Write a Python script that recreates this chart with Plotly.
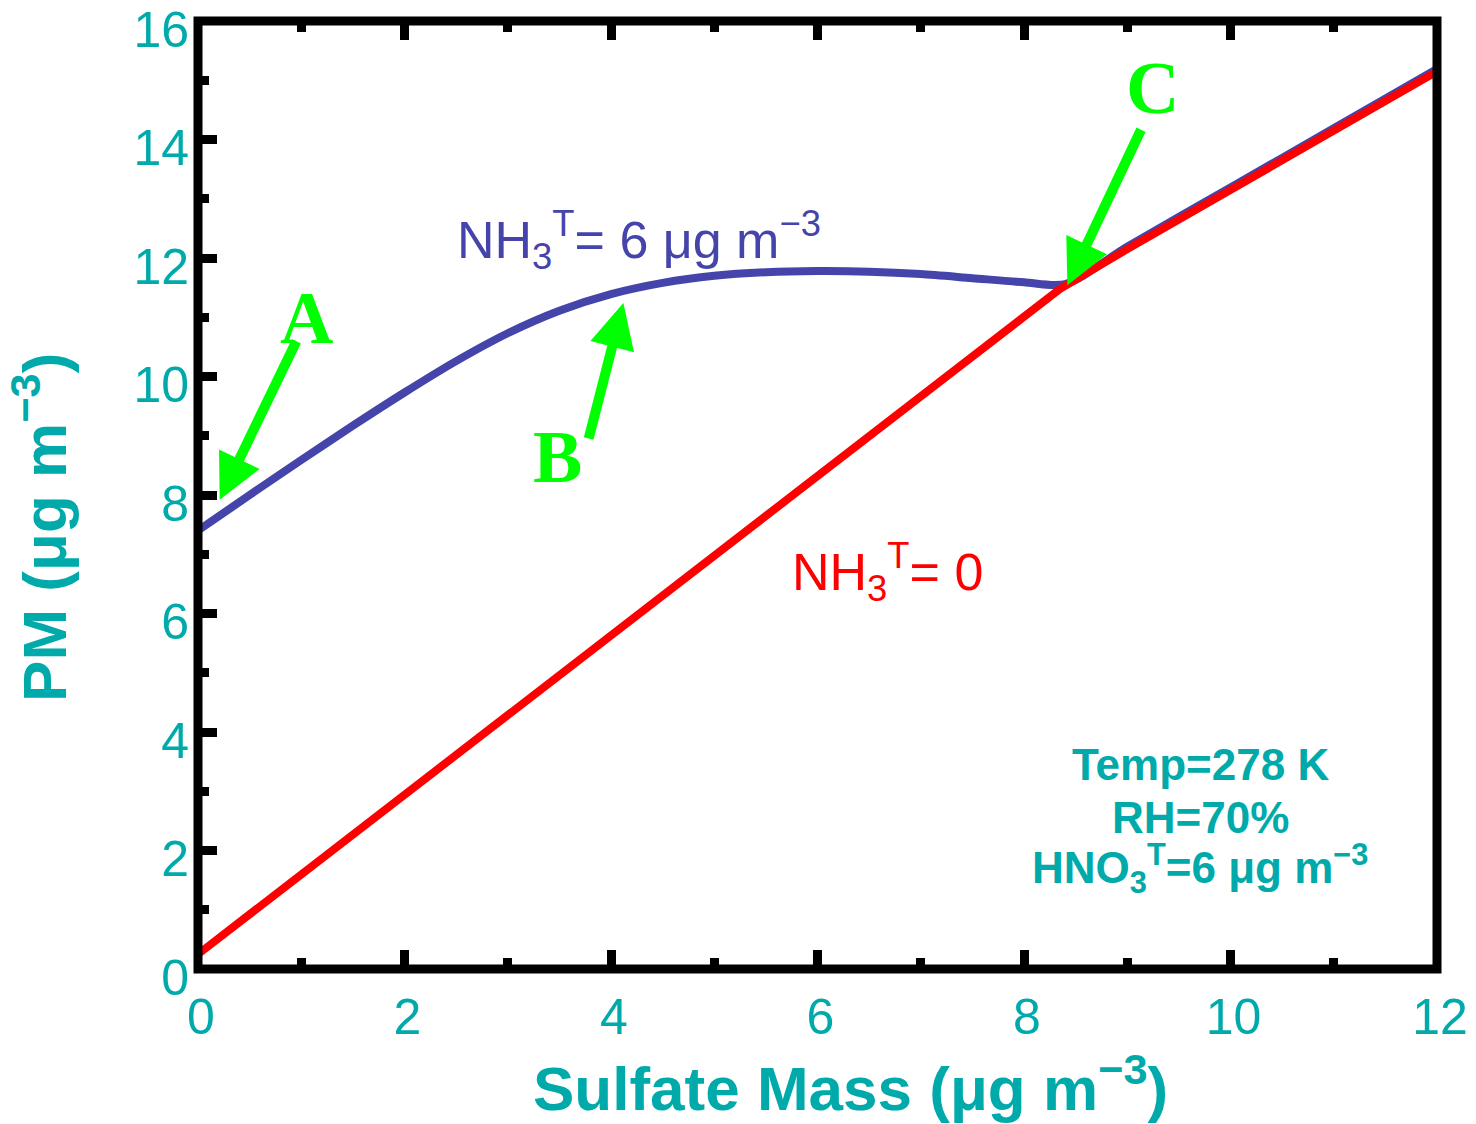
import plotly.graph_objects as go

# ---------------- data ----------------
sulfate_nh3_0 = [0, 2, 4, 6, 8, 8.35, 9, 10, 11, 12]
pm_nh3_0 = [0.25, 2.94, 5.63, 8.32, 11.01, 11.48, 12.15, 13.15, 14.15, 15.15]

sulfate_nh3_6 = [0, 0.5, 1, 1.5, 2, 2.5, 3, 3.5, 4, 4.5, 5, 5.5, 6, 6.5, 7,
                 7.5, 8, 8.4, 9, 10, 11, 12]
pm_nh3_6 = [7.40, 8.00, 8.59, 9.17, 9.73, 10.26, 10.73, 11.11, 11.39, 11.58,
            11.70, 11.76, 11.78, 11.77, 11.73, 11.66, 11.59, 11.56, 12.19,
            13.19, 14.19, 15.19]

x_tickvals = [0, 2, 4, 6, 8, 10, 12]
x_ticktext = ["0", "2", "4", "6", "8", "10", "12"]
y_tickvals = [0, 2, 4, 6, 8, 10, 12, 14, 16]
y_ticktext = ["0", "2", "4", "6", "8", "10", "12", "14", "16"]

arrow_names = ["A", "B", "C"]
arrow_tip_x = [0.21, 4.12, 8.42]
arrow_tip_y = [7.92, 11.24, 11.54]
arrow_tail_x = [0.96, 3.78, 9.14]
arrow_tail_y = [10.62, 8.93, 14.19]
letter_x = [1.05, 3.48, 9.24]
letter_y = [10.99, 8.64, 14.87]

info_lines = ["Temp=278 K", "RH=70%", "HNO<sub>3</sub><sup>T</sup>=6 \u03bcg m<sup>\u22123</sup>"]
info_y = [3.46, 2.565, 1.688]

TEAL = "#00AAAA"
BLUE = "#4444AA"
RED = "#FF0000"
GREEN = "#00FF00"
FONT = "Liberation Sans, Arial, sans-serif"

fig = go.Figure()
fig.add_trace(go.Scatter(x=sulfate_nh3_6, y=pm_nh3_6, mode="lines",
                         line=dict(color=BLUE, width=8, shape="spline", smoothing=0.8),
                         showlegend=False))
fig.add_trace(go.Scatter(x=sulfate_nh3_0, y=pm_nh3_0, mode="lines",
                         line=dict(color=RED, width=8), showlegend=False))
# dummy trace for the top mirrored axis
fig.add_trace(go.Scatter(x=[0], y=[0], xaxis="x2", mode="markers",
                         marker=dict(opacity=0), showlegend=False, hoverinfo="skip"))

annotations = []
# curve labels
annotations.append(dict(x=2.49, y=12.30, xref="x", yref="y", xanchor="left", yanchor="middle",
                        text="NH<sub>3</sub><sup>T</sup>= 6 \u03bcg m<sup>\u22123</sup>",
                        showarrow=False, font=dict(family=FONT, size=52, color=BLUE)))
annotations.append(dict(x=5.73, y=6.70, xref="x", yref="y", xanchor="left", yanchor="middle",
                        text="NH<sub>3</sub><sup>T</sup>= 0",
                        showarrow=False, font=dict(family=FONT, size=52, color=RED)))
# info text
for t, yy in zip(info_lines, info_y):
    annotations.append(dict(x=9.705, y=yy, xref="x", yref="y", xanchor="center", yanchor="middle",
                            text="<b>" + t + "</b>", showarrow=False,
                            font=dict(family=FONT, size=44, color=TEAL)))
# arrows
for tx, ty, ax_, ay_ in zip(arrow_tip_x, arrow_tip_y, arrow_tail_x, arrow_tail_y):
    annotations.append(dict(x=tx, y=ty, xref="x", yref="y", ax=ax_, ay=ay_, axref="x", ayref="y",
                            text="", showarrow=True, arrowhead=2, arrowsize=0.9, arrowwidth=10,
                            arrowcolor=GREEN, standoff=0, startstandoff=0))
for name, lx, ly in zip(arrow_names, letter_x, letter_y):
    annotations.append(dict(x=lx, y=ly, xref="x", yref="y", xanchor="center", yanchor="middle",
                            text="<b>" + name + "</b>", showarrow=False,
                            font=dict(family="Liberation Serif, Times New Roman, serif", size=74, color=GREEN)))
# axis titles
annotations.append(dict(x=0.527, y=-0.1215, xref="paper", yref="paper", xanchor="center", yanchor="middle",
                        text="<b>Sulfate Mass (\u03bcg m<sup>\u22123</sup>)</b>", showarrow=False,
                        font=dict(family=FONT, size=62, color=TEAL)))
annotations.append(dict(x=-0.127, y=0.466, xref="paper", yref="paper", xanchor="center", yanchor="middle",
                        text="<b>PM (\u03bcg m<sup>\u22123</sup>)</b>", showarrow=False, textangle=-90,
                        font=dict(family=FONT, size=62, color=TEAL)))

tick_common = dict(ticks="inside", ticklen=19, tickwidth=9, tickcolor="black",
                   showgrid=False, zeroline=False, showline=False, automargin=False,
                   minor=dict(ticks="inside", ticklen=11, tickwidth=9, tickcolor="black", dtick=1, showgrid=False))

fig.update_layout(
    width=1476, height=1124,
    margin=dict(l=198, r=39, t=21, b=155, autoexpand=False),
    plot_bgcolor="white", paper_bgcolor="white",
    xaxis=dict(range=[0, 12], tickvals=x_tickvals, ticktext=x_ticktext,
               tickfont=dict(family=FONT, size=50, color=TEAL), ticklabelstandoff=14,
               ticklabelshift=3, ticklabeloverflow="allow", **tick_common),
    xaxis2=dict(range=[0, 12], overlaying="x", side="top", anchor="y", tickvals=x_tickvals,
                showticklabels=False, **tick_common),
    yaxis=dict(range=[0, 16], tickvals=y_tickvals, ticktext=y_ticktext,
               tickfont=dict(family=FONT, size=50, color=TEAL), ticklabelstandoff=8,
               ticklabelshift=8, ticklabeloverflow="allow", **tick_common),
    shapes=[dict(type="rect", xref="paper", yref="paper", x0=0, x1=1, y0=0, y1=1,
                 line=dict(color="black", width=9), layer="above")],
    annotations=annotations,
)

fig.write_html("out.html", config={"displayModeBar": False},
               post_script="document.body.style.margin='0';")
